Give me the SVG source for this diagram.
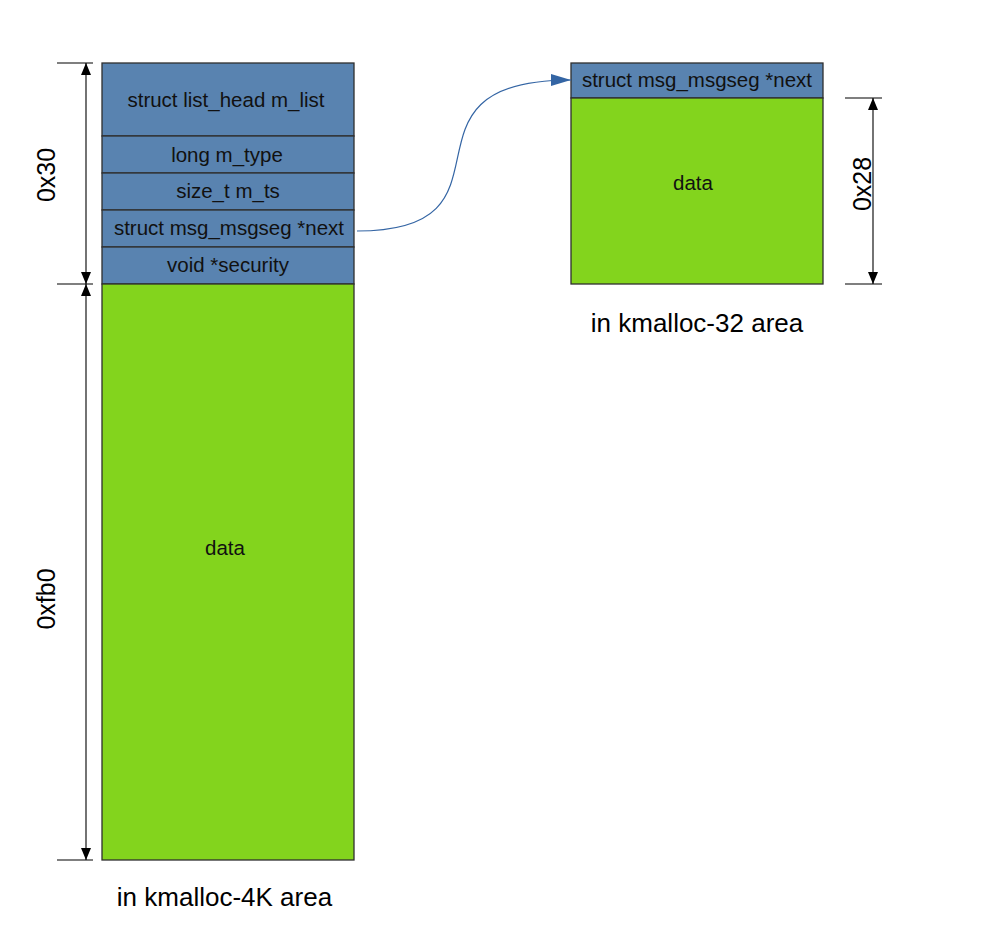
<svg xmlns="http://www.w3.org/2000/svg" width="998" height="945" viewBox="0 0 998 945">
<style>
.hdr{fill:#5983b0;stroke:#2f2f2f;stroke-width:1.3}
.dat{fill:#83d41d;stroke:#2f2f2f;stroke-width:1.3}
.t{font-family:"Liberation Sans",Arial,sans-serif;font-size:20.5px;fill:#111;text-anchor:middle}
.big{font-family:"Liberation Sans",Arial,sans-serif;font-size:25px;fill:#000;text-anchor:middle}
.area{font-family:"Liberation Sans",Arial,sans-serif;font-size:26px;fill:#000;text-anchor:middle}
.ext{stroke:#555;stroke-width:1.3}
.dim{stroke:#000;stroke-width:1.1;fill:none;marker-start:url(#da);marker-end:url(#da)}
</style>
<defs>
<marker id="da" viewBox="0 0 12 10" refX="12" refY="5" markerWidth="12" markerHeight="10" markerUnits="userSpaceOnUse" orient="auto-start-reverse">
<path d="M0,0 L12,5 L0,10 Z" fill="#000"/>
</marker>
<marker id="ba" viewBox="0 0 20 12" refX="20" refY="6" markerWidth="20" markerHeight="12" markerUnits="userSpaceOnUse" orient="auto">
<path d="M0,0 L20,6 L0,12 Z" fill="#3465a4"/>
</marker>
</defs>
<rect width="998" height="945" fill="#fff"/>
<g id="msg_msg">
<rect class="hdr" x="102" y="63" width="252" height="73"/>
<text class="t" x="226" y="107">struct list_head m_list</text>
<rect class="hdr" x="102" y="136" width="252" height="37"/>
<text class="t" x="227" y="162">long m_type</text>
<rect class="hdr" x="102" y="173" width="252" height="37"/>
<text class="t" x="228" y="198">size_t m_ts</text>
<rect class="hdr" x="102" y="210" width="252" height="37"/>
<text class="t" x="229" y="235">struct msg_msgseg *next</text>
<rect class="hdr" x="102" y="247" width="252" height="37"/>
<text class="t" x="228" y="272">void *security</text>
<rect class="dat" x="102" y="284" width="252" height="576"/>
<text class="t" x="225" y="555">data</text>
<text class="area" x="224.5" y="906">in kmalloc-4K area</text>
</g>
<g id="msg_msgseg">
<rect class="hdr" x="571" y="63" width="252" height="35"/>
<text class="t" x="697" y="87">struct msg_msgseg *next</text>
<rect class="dat" x="571" y="98" width="252" height="186"/>
<text class="t" x="693" y="190">data</text>
<text class="area" x="697" y="332">in kmalloc-32 area</text>
</g>
<g id="dim-0x30">
<line class="ext" x1="57" y1="63" x2="93" y2="63"/>
<line class="ext" x1="57" y1="284" x2="93" y2="284"/>
<line class="dim" x1="86" y1="63" x2="86" y2="284"/>
<text class="big" transform="translate(55,175) rotate(-90)" x="0" y="0">0x30</text>
</g>
<g id="dim-0xfb0">
<line class="ext" x1="57" y1="860" x2="93" y2="860"/>
<line class="dim" x1="86" y1="284" x2="86" y2="860"/>
<text class="big" transform="translate(55,599) rotate(-90)" x="0" y="0">0xfb0</text>
</g>
<g id="dim-0x28">
<line class="ext" x1="845" y1="98" x2="882" y2="98"/>
<line class="ext" x1="845" y1="284" x2="882" y2="284"/>
<line class="dim" x1="873" y1="98" x2="873" y2="284"/>
<text class="big" transform="translate(871,184) rotate(-90)" x="0" y="0">0x28</text>
</g>
<g id="connectors">
<path d="M357,231 C531,231 381,80 571,80" fill="none" stroke="#3465a4" stroke-width="1.2" marker-end="url(#ba)"/>
</g>
</svg>
